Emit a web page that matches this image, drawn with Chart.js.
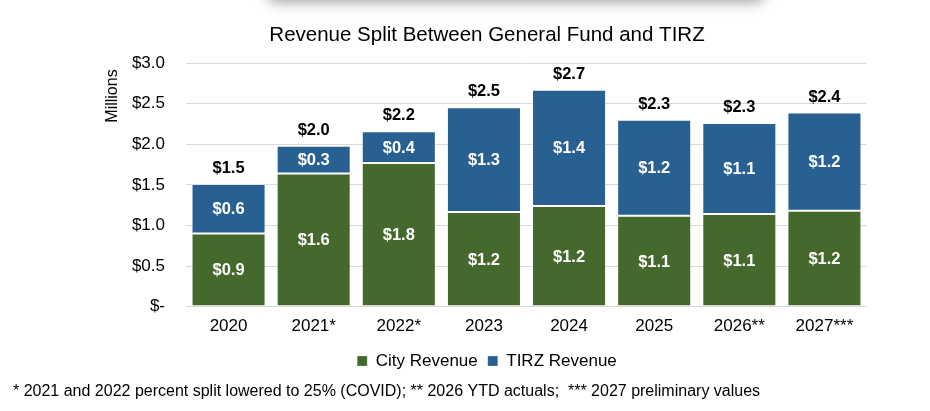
<!DOCTYPE html>
<html>
<head>
<meta charset="utf-8">
<script src="https://cdn.jsdelivr.net/npm/chart.js@4.4.1/dist/chart.umd.min.js"></script>
<style>
  html, body { margin: 0; padding: 0; background: #ffffff; }
  #wrap { position: relative; width: 930px; height: 411px; overflow: hidden; background: #fff; }
  #shadow { position: absolute; left: 266px; top: -50px; width: 500px; height: 49px; background: #fff;
            border-radius: 12px; box-shadow: 0 3px 14px rgba(0,0,0,0.38); z-index: 2; }
  canvas { position: absolute; left: 0; top: 0; }
</style>
</head>
<body>
<div id="wrap">
  <div id="shadow"></div>
  <canvas id="c" width="930" height="411"></canvas>
</div>
<script>
// ---- data ----
const categories = ['2020', '2021*', '2022*', '2023', '2024', '2025', '2026**', '2027***'];
const cityRevenue = [0.90, 1.64, 1.77, 1.165, 1.24, 1.12, 1.14, 1.18];
const tirzRevenue = [0.61, 0.34, 0.39, 1.29, 1.43, 1.18, 1.12, 1.21];
const yTickValues = [0, 0.5, 1.0, 1.5, 2.0, 2.5, 3.0];
const yTickLabels = ['$-', '$0.5', '$1.0', '$1.5', '$2.0', '$2.5', '$3.0'];
const seriesNames = ['City Revenue', 'TIRZ Revenue'];
const chartTitle = 'Revenue Split Between General Fund and TIRZ';
const yAxisTitle = 'Millions';
const footnote = '* 2021 and 2022 percent split lowered to 25% (COVID); ** 2026 YTD actuals;  *** 2027 preliminary values';

const FONT = "'Liberation Sans', Arial, Helvetica, sans-serif";
const GREEN = '#45682d';
const BLUE = '#286091';

function fmt(v) { return '$' + v.toFixed(1); }

const labelPlugin = {
  id: 'labels',
  afterDatasetsDraw(chart) {
    const ctx = chart.ctx;
    ctx.save();
    ctx.textAlign = 'center';
    ctx.textBaseline = 'middle';
    ctx.font = 'bold 16.5px ' + FONT;
    ctx.fillStyle = '#ffffff';
    chart.data.datasets.forEach((ds, di) => {
      const meta = chart.getDatasetMeta(di);
      meta.data.forEach((el, i) => {
        const y = (el.y + el.base) / 2;
        ctx.fillText(fmt(ds.data[i]), el.x, y + 1);
      });
    });
    const topMeta = chart.getDatasetMeta(chart.data.datasets.length - 1);
    ctx.fillStyle = '#000000';
    topMeta.data.forEach((el, i) => {
      const total = cityRevenue[i] + tirzRevenue[i];
      ctx.fillText(fmt(total), el.x, el.y - 15.5);
    });
    ctx.restore();
  },
  afterDraw(chart) {
    const ctx = chart.ctx;
    ctx.save();
    ctx.font = '16px ' + FONT;
    ctx.fillStyle = '#000000';
    ctx.textAlign = 'left';
    ctx.textBaseline = 'middle';
    ctx.fillText(footnote, 13, 392);
    // y-axis title, placed near the top of the axis like the reference
    ctx.translate(113, 96);
    ctx.rotate(-Math.PI / 2);
    ctx.textAlign = 'center';
    ctx.font = '16px ' + FONT;
    ctx.fillText(yAxisTitle, 0, 0);
    ctx.restore();
  }
};

new Chart(document.getElementById('c'), {
  type: 'bar',
  data: {
    labels: categories,
    datasets: [
      { label: seriesNames[0], data: cityRevenue, backgroundColor: GREEN,
        borderColor: 'rgba(255,255,255,0.22)', borderWidth: 1, borderSkipped: false },
      { label: seriesNames[1], data: tirzRevenue, backgroundColor: BLUE,
        borderColor: 'rgba(255,255,255,0.22)', borderWidth: 1, borderSkipped: false }
    ]
  },
  options: {
    responsive: false,
    animation: false,
    devicePixelRatio: 1,
    layout: { padding: { left: 44, right: 0, top: 0, bottom: 31.5 } },
    datasets: { bar: { categoryPercentage: 1.0, barPercentage: 0.87 } },
    plugins: {
      title: {
        display: true, text: chartTitle, color: '#000',
        font: { family: FONT, size: 20.5, weight: 'normal' },
        padding: { top: 22.7, bottom: 15.7 }
      },
      legend: {
        position: 'bottom',
        labels: {
          color: '#000', boxWidth: 10, boxHeight: 10, padding: 10,
          font: { family: FONT, size: 17 }
        }
      },
      tooltip: { enabled: false }
    },
    scales: {
      x: {
        stacked: true,
        grid: { display: false, drawTicks: false },
        border: { display: false },
        ticks: { color: '#000', padding: 9, font: { family: FONT, size: 17 }, maxRotation: 0 },
        afterFit(s) { s.height = 35.8; }
      },
      y: {
        stacked: true,
        min: 0, max: 3.0,
        grid: { color: '#d9d9d9', lineWidth: 1, drawTicks: false },
        border: { display: false },
        afterBuildTicks(s) { s.ticks = yTickValues.map(v => ({ value: v })); },
        ticks: {
          color: '#000', padding: 21, font: { family: FONT, size: 17 },
          callback(v) { const k = yTickValues.indexOf(v); return k >= 0 ? yTickLabels[k] : ''; }
        },
        title: { display: false },
        afterFit(s) { s.width = 142; }
      },
      yRight: {
        position: 'right',
        display: true,
        grid: { display: false, drawTicks: false },
        border: { display: false },
        ticks: { display: false },
        afterFit(s) { s.width = 63; }
      }
    }
  },
  plugins: [labelPlugin]
});
</script>
</body>
</html>
